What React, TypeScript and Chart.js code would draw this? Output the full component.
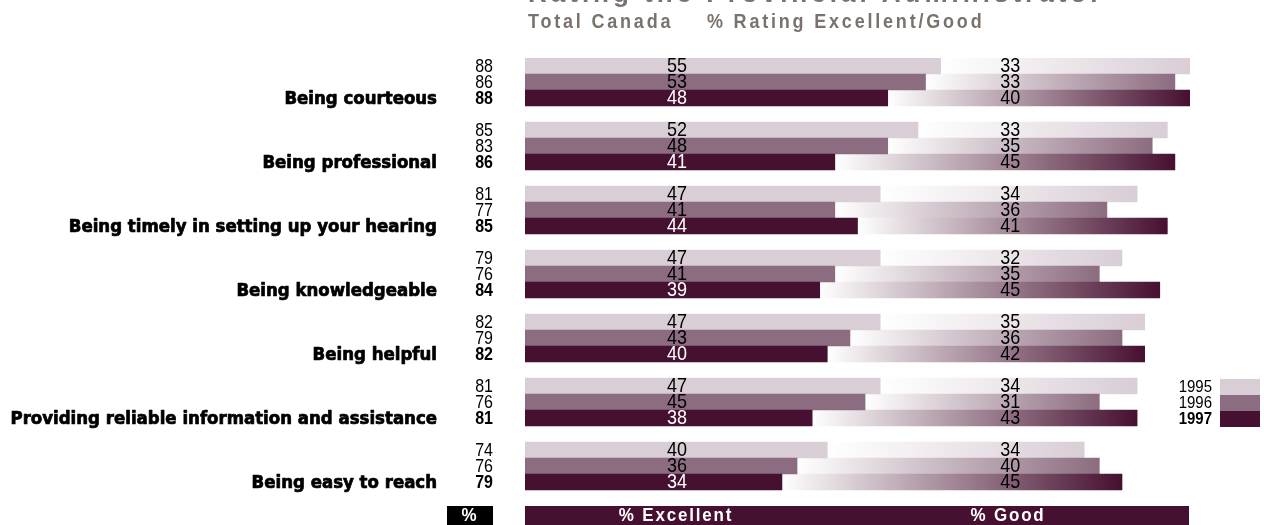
import React, { useEffect, useRef } from "react";
import { Chart, registerables } from "chart.js";

Chart.register(...registerables);

const TITLE = "Rating the Provincial Administrator";
const SUBTITLE_LEFT = "Total Canada";
const SUBTITLE_RIGHT = "% Rating Excellent/Good";

const CATEGORIES = [
  "Being courteous",
  "Being professional",
  "Being timely in setting up your hearing",
  "Being knowledgeable",
  "Being helpful",
  "Providing reliable information and assistance",
  "Being easy to reach",
];
const YEARS = ["1995", "1996", "1997"];

const EXCELLENT_1995 = [55, 52, 47, 47, 47, 47, 40];
const EXCELLENT_1996 = [53, 48, 41, 41, 43, 45, 36];
const EXCELLENT_1997 = [48, 41, 44, 39, 40, 38, 34];
const GOOD_1995 = [33, 33, 34, 32, 35, 34, 34];
const GOOD_1996 = [33, 35, 36, 35, 36, 31, 40];
const GOOD_1997 = [40, 45, 41, 45, 42, 43, 45];
const TOTAL_1995 = [88, 85, 81, 79, 82, 81, 74];
const TOTAL_1996 = [86, 83, 77, 76, 79, 76, 76];
const TOTAL_1997 = [88, 86, 85, 84, 82, 81, 79];

const FOOTER_LABELS = ["% Excellent", "% Good"];
const X_MAX = 88;

const YEAR_COLORS = ["#d9cdd6", "#8c6c80", "#461030"];

const EXC = [EXCELLENT_1995, EXCELLENT_1996, EXCELLENT_1997];
const GOOD = [GOOD_1995, GOOD_1996, GOOD_1997];
const TOT = [TOTAL_1995, TOTAL_1996, TOTAL_1997];

// 4 slots per category: three years + one empty gap
const SLOTS: { cat: number; year: number }[] = [];
CATEGORIES.forEach((_, c) => {
  for (let y = 0; y < 4; y++) SLOTS.push({ cat: c, year: y });
});
const slotLabels = SLOTS.map((s, i) => `${s.cat}-${s.year}-${i}`);
const excData = SLOTS.map((s) => (s.year < 3 ? EXC[s.year][s.cat] : null));
const goodData = SLOTS.map((s) => (s.year < 3 ? GOOD[s.year][s.cat] : null));

const SANS = "'Liberation Sans', Arial, sans-serif";
const HEAVY = "'DejaVu Sans', 'Liberation Sans', sans-serif";

function stretchText(ctx: CanvasRenderingContext2D, text: string, x: number, y: number, sy: number, stroke = 0) {
  ctx.save();
  ctx.translate(x, y);
  ctx.scale(1, sy);
  if (stroke > 0) {
    ctx.lineWidth = stroke;
    ctx.strokeStyle = ctx.fillStyle as string;
    ctx.lineJoin = "round";
    ctx.strokeText(text, 0, 0);
  }
  ctx.fillText(text, 0, 0);
  ctx.restore();
}

const textPlugin = {
  id: "customText",
  afterDatasetsDraw(chart: any) {
    const ctx = chart.ctx as CanvasRenderingContext2D;
    const xs = chart.scales.x;
    const ys = chart.scales.y;
    const area = chart.chartArea;
    ctx.save();

    // Title (partially cut off at the top)
    ctx.fillStyle = "#7b726c";
    ctx.textAlign = "left";
    ctx.textBaseline = "alphabetic";
    (ctx as any).letterSpacing = "4px";
    ctx.font = `bold 26px ${SANS}`;
    ctx.fillText(TITLE, 528, 2);
    (ctx as any).letterSpacing = "2.8px";
    ctx.font = `bold 18px ${SANS}`;
    stretchText(ctx, SUBTITLE_LEFT, 528, 28, 1.1);
    stretchText(ctx, SUBTITLE_RIGHT, 707, 28, 1.1);
    (ctx as any).letterSpacing = "0px";

    SLOTS.forEach((s, i) => {
      if (s.year > 2) return;
      const yc = ys.getPixelForValue(i) + 1;
      // totals
      ctx.textBaseline = "middle";
      ctx.textAlign = "right";
      ctx.fillStyle = "#000";
      ctx.font = `${s.year === 2 ? "bold " : ""}16px ${SANS}`;
      stretchText(ctx, String(TOT[s.year][s.cat]), 493, yc, 1.2);
      // category label
      if (s.year === 2) {
        ctx.font = `bold 16.6px ${HEAVY}`;
        stretchText(ctx, CATEGORIES[s.cat], 437, yc, 1.05, 0.7);
      }
      // value labels
      ctx.textAlign = "center";
      ctx.font = `18px ${SANS}`;
      ctx.fillStyle = s.year === 2 ? "#fff" : "#000";
      stretchText(ctx, String(EXC[s.year][s.cat]), xs.getPixelForValue(20.1), yc, 1.1);
      ctx.fillStyle = "#000";
      stretchText(ctx, String(GOOD[s.year][s.cat]), xs.getPixelForValue(64.2), yc, 1.1);
    });

    // Legend
    YEARS.forEach((yr, k) => {
      const top = 379 + k * 16;
      ctx.fillStyle = YEAR_COLORS[k];
      ctx.fillRect(1220, top, 40, 16);
      ctx.fillStyle = "#000";
      ctx.textAlign = "right";
      ctx.textBaseline = "middle";
      ctx.font = `${k === 2 ? "bold " : ""}15px ${SANS}`;
      stretchText(ctx, yr, 1212, top + 8.5, 1.1);
    });

    // Footer band
    const fTop = area.bottom;
    ctx.fillStyle = "#461030";
    ctx.fillRect(area.left, fTop, xs.getPixelForValue(X_MAX) - 1 - area.left, 19);
    ctx.fillStyle = "#000";
    ctx.fillRect(447, fTop, 46, 19);
    ctx.fillStyle = "#fff";
    ctx.textAlign = "center";
    ctx.textBaseline = "middle";
    ctx.font = `bold 17px ${SANS}`;
    (ctx as any).letterSpacing = "1.8px";
    stretchText(ctx, "%", 470, fTop + 10, 1.1);
    stretchText(ctx, FOOTER_LABELS[0], 676, fTop + 10, 1.1);
    stretchText(ctx, FOOTER_LABELS[1], 1008, fTop + 10, 1.1);
    (ctx as any).letterSpacing = "0px";

    ctx.restore();
  },
};

export default function App() {
  const ref = useRef<HTMLCanvasElement | null>(null);
  useEffect(() => {
    if (!ref.current) return;
    const chart = new Chart(ref.current, {
      type: "bar",
      data: {
        labels: slotLabels,
        datasets: [
          {
            label: "Excellent",
            data: excData as any,
            backgroundColor: (c: any) => YEAR_COLORS[SLOTS[c.dataIndex]?.year % 4] || "transparent",
            barPercentage: 1,
            categoryPercentage: 1,
            borderWidth: 0,
          },
          {
            label: "Good",
            data: goodData as any,
            backgroundColor: (c: any) => {
              const s = SLOTS[c.dataIndex];
              if (!s || s.year > 2) return "transparent";
              const chart = c.chart;
              const xs = chart.scales?.x;
              const color = YEAR_COLORS[s.year];
              if (!xs || !chart.chartArea) return color;
              const x0 = xs.getPixelForValue(EXC[s.year][s.cat]);
              const x1 = xs.getPixelForValue(EXC[s.year][s.cat] + GOOD[s.year][s.cat]);
              const g = chart.ctx.createLinearGradient(x0, 0, x1, 0);
              g.addColorStop(0, "#ffffff");
              g.addColorStop(1, color);
              return g;
            },
            barPercentage: 1,
            categoryPercentage: 1,
            borderWidth: 0,
          },
        ],
      },
      options: {
        indexAxis: "y",
        responsive: false,
        animation: false,
        devicePixelRatio: 1,
        layout: { padding: { left: 525, right: 74, top: 58, bottom: 19 } },
        plugins: { legend: { display: false }, tooltip: { enabled: false } },
        scales: {
          x: { display: false, stacked: true, min: 0, max: X_MAX },
          y: { display: false, stacked: true },
        },
      },
      plugins: [textPlugin],
    });
    return () => chart.destroy();
  }, []);
  return (
    <div style={{ position: "fixed", left: 0, top: 0, width: 1264, height: 525, background: "#fff" }}>
      <canvas ref={ref} width={1264} height={525} style={{ width: 1264, height: 525, display: "block" }} />
    </div>
  );
}
